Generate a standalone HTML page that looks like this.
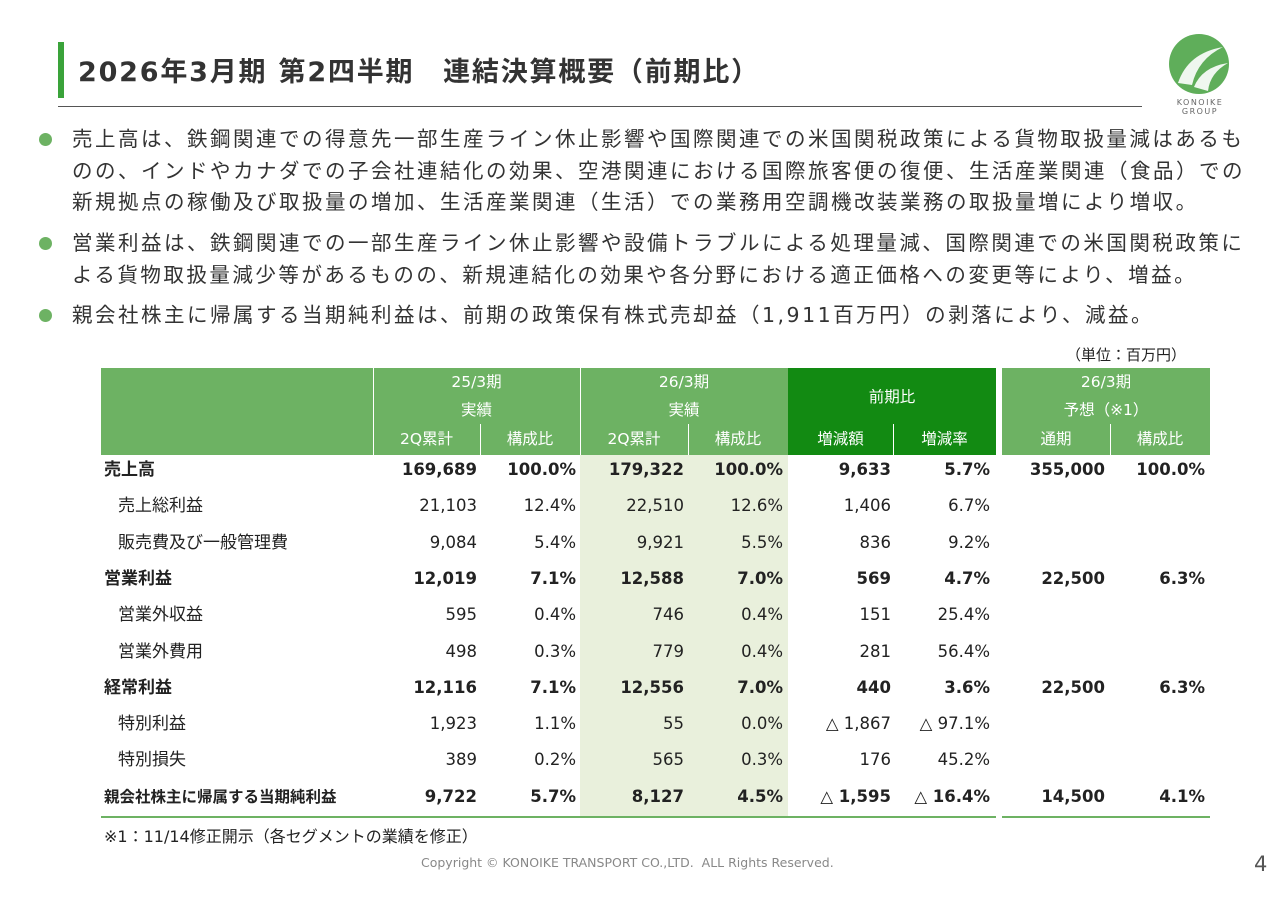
<!DOCTYPE html>
<html><head><meta charset="utf-8">
<style>
body{margin:0;width:1280px;height:905px;background:#fff;position:relative;overflow:hidden;font-family:"DejaVu Sans","Noto Sans CJK JP",sans-serif;color:#222}
.a{position:absolute;white-space:nowrap}
.bul{position:absolute;left:72px;font-size:20.5px;line-height:31.6px;color:#333;letter-spacing:2.5px;white-space:nowrap}
.dot{position:absolute;left:39px;width:13px;height:13px;border-radius:50%;background:#6db263}
.h{position:absolute;color:#fff;font-size:15.5px;text-align:center}
.c{position:absolute;font-size:16.5px;text-align:right;height:36px;line-height:36px}
.b{font-weight:bold}
</style></head><body>
<div class="a" style="left:58px;top:42px;width:6px;height:56px;background:#3aa33a"></div>
<div class="a" style="left:78px;top:50px;font-size:27px;font-weight:bold;color:#333;letter-spacing:1.8px">2026年3月期 第2四半期　連結決算概要（前期比）</div>
<div class="a" style="left:58px;top:106px;width:1084px;height:1px;background:#555"></div>
<div class="a" style="left:1168px;top:33px;width:62px;height:62px">
<svg width="62" height="62" viewBox="0 0 62 62"><circle cx="31" cy="31" r="30" fill="#5fae5a"/><path d="M10 50 Q20 20 55 14 Q30 26 24 52Z" fill="#fff" opacity=".9"/><path d="M26 54 Q34 34 60 30 Q42 40 40 58Z" fill="#fff" opacity=".9"/></svg></div>
<div class="a" style="left:1168px;top:98px;width:64px;text-align:center;font-size:8px;letter-spacing:1.5px;color:#666;line-height:9px">KONOIKE<br>GROUP</div>

<div class="dot" style="top:133px"></div>
<div class="bul" style="top:124px">売上高は、鉄鋼関連での得意先一部生産ライン休止影響や国際関連での米国関税政策による貨物取扱量減はあるも<br>のの、インドやカナダでの子会社連結化の効果、空港関連における国際旅客便の復便、生活産業関連（食品）での<br>新規拠点の稼働及び取扱量の増加、生活産業関連（生活）での業務用空調機改装業務の取扱量増により増収。</div>
<div class="dot" style="top:237px"></div>
<div class="bul" style="top:228px">営業利益は、鉄鋼関連での一部生産ライン休止影響や設備トラブルによる処理量減、国際関連での米国関税政策に<br>よる貨物取扱量減少等があるものの、新規連結化の効果や各分野における適正価格への変更等により、増益。</div>
<div class="dot" style="top:309px"></div>
<div class="bul" style="top:300px">親会社株主に帰属する当期純利益は、前期の政策保有株式売却益（1,911百万円）の剥落により、減益。</div>
<div class="a" style="left:1066px;top:344px;font-size:15px">（単位：百万円）</div>

<div id="tbl"></div>
<div class="a" style="left:104px;top:823px;font-size:16px">※1：11/14修正開示（各セグメントの業績を修正）</div>
<div class="a" style="left:421px;top:855px;font-size:12.5px;color:#888">Copyright © KONOIKE TRANSPORT CO.,LTD.&nbsp; ALL Rights Reserved.</div>
<div class="a" style="left:1254px;top:852px;font-size:21px;color:#555">4</div>
<script>
const rowLabels=["売上高","売上総利益","販売費及び一般管理費","営業利益","営業外収益","営業外費用","経常利益","特別利益","特別損失","親会社株主に帰属する当期純利益"];
const boldRows=[1,0,0,1,0,0,1,0,0,1];
const prev2Q=["169,689","21,103","9,084","12,019","595","498","12,116","1,923","389","9,722"];
const prevRatio=["100.0%","12.4%","5.4%","7.1%","0.4%","0.3%","7.1%","1.1%","0.2%","5.7%"];
const cur2Q=["179,322","22,510","9,921","12,588","746","779","12,556","55","565","8,127"];
const curRatio=["100.0%","12.6%","5.5%","7.0%","0.4%","0.4%","7.0%","0.0%","0.3%","4.5%"];
const diffAmt=["9,633","1,406","836","569","151","281","440","△ 1,867","176","△ 1,595"];
const diffRate=["5.7%","6.7%","9.2%","4.7%","25.4%","56.4%","3.6%","△ 97.1%","45.2%","△ 16.4%"];
const fcFull=["355,000","","","22,500","","","22,500","","","14,500"];
const fcRatio=["100.0%","","","6.3%","","","6.3%","","","4.1%"];
const t=document.getElementById('tbl');
function box(l,tp,w,h,bg,name){const d=document.createElement('div');d.className='a';d.style.cssText=`left:${l}px;top:${tp}px;width:${w}px;height:${h}px;background:${bg}`;


t.appendChild(d);return d;}
function txt(l,tp,w,s,cls,name,align){const d=document.createElement('div');d.className=cls;d.style.cssText=`left:${l}px;top:${tp}px;width:${w}px;`+(align?`text-align:${align}`:'');d.textContent=s;


t.appendChild(d);return d;}
const G='#6db263',DG='#128a12';
box(101,368,1109,87,G,'table-header');
box(788,368,214,87,DG,'header-yoy');
box(996,368,6,87,'#fff','header-gap');
box(996,455,6,362,'#fff','body-gap');
box(580,455,208,361,'#e9f0dc','current-period-highlight');
[373,580].forEach((x,i)=>box(x,368,1,87,'#fff','header-divider-'+i));
[480,688,893,1110].forEach((x,i)=>box(x,424,1,31,'#fff','sub-divider-'+i));
box(101,816,895,2,'#6db263','table-bottom-rule');
box(1002,816,208,2,'#6db263','table-bottom-rule-fc');
const hd=[[373,207,'25/3期'],[580,208,'26/3期'],[1002,208,'26/3期']];
hd.forEach((h,i)=>{txt(h[0],370,h[1],h[2],'h','header-period-'+i);txt(h[0],398,h[1],i==2?'予想（※1）':'実績','h','header-type-'+i);});
txt(788,385,208,'前期比','h','header-yoy-label');
const sub=[[373,107,'2Q累計'],[480,100,'構成比'],[580,108,'2Q累計'],[688,100,'構成比'],[788,105,'増減額'],[893,103,'増減率'],[1002,108,'通期'],[1110,100,'構成比']];
sub.forEach((s,i)=>txt(s[0],427,s[1],s[2],'h','subheader-'+i));
const cols=[[prev2Q,477],[prevRatio,576],[cur2Q,684],[curRatio,783],[diffAmt,891],[diffRate,990],[fcFull,1105],[fcRatio,1205]];
rowLabels.forEach((lab,r)=>{const y=452+r*36.3;const b=boldRows[r]?' b':'';
 const L=txt(boldRows[r]?104:118,y,260,lab,'c'+b,'row-label-'+r,'left');
 L.style.fontSize=r==9?'15.5px':'17px';
 cols.forEach((c,ci)=>{if(c[0][r])txt(c[1]-150,y,150,c[0][r],'c'+b,'cell-'+r+'-'+ci);});
});
</script>
</body></html>
